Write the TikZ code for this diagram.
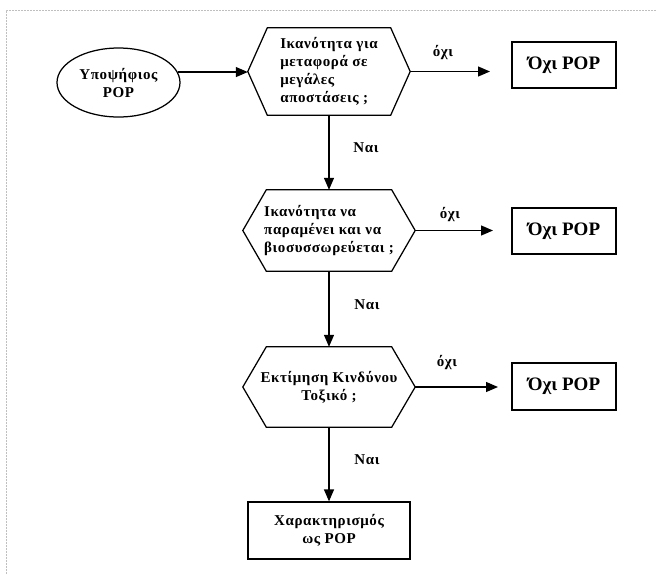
\documentclass[tikz,border=0pt]{standalone}
\usepackage{fontspec}
\setmainfont{Liberation Serif}
\usetikzlibrary{arrows.meta,shapes.geometric}
\begin{document}
\begin{tikzpicture}[x=1pt,y=-1pt,
  every node/.style={font=\bfseries\fontsize{15}{18}\selectfont\addfontfeatures{LetterSpace=4}},
  ln/.style={line width=1.25pt},
  arr/.style={ln,-{Triangle[length=12pt,width=10pt]}},
  hexa/.style={inner sep=0pt, align=left},
  box/.style={draw,ln,rectangle,inner sep=0pt},
  bigtxt/.style={font=\bfseries\fontsize{19}{22}\selectfont},
  lbl/.style={inner sep=0pt}]
\useasboundingbox (0,0) rectangle (657,574);
\fill[white] (0,0) rectangle (657,574);
\draw[gray!50,line width=0.7pt,dash pattern=on 2pt off 1pt] (6,574) -- (6,10) -- (657,10);

% nodes
\node[draw,ln,ellipse,minimum width=123pt,minimum height=69pt,inner sep=0pt,align=center] (ell) at (118.5,82.5) {Υποψήφιος\\POP};
\node[hexa,minimum width=162pt,minimum height=87pt] (h1) at (329,71.5) {Ικανότητα για\\μεταφορά σε\\μεγάλες\\αποστάσεις ;};
\node[hexa,minimum width=172pt,minimum height=81pt] (h2) at (329,230.5) {Ικανότητα να\\παραμένει και να\\βιοσυσσωρεύεται ;};
\node[hexa,align=center,minimum width=172pt,minimum height=80pt] (h3) at (329,387) {Εκτίμηση Κινδύνου\\Τοξικό ;};
\node[box,bigtxt,minimum width=104pt,minimum height=46pt] (b1) at (564,65) {Όχι POP};
\node[box,bigtxt,minimum width=104pt,minimum height=46pt] (b2) at (564,231) {Όχι POP};
\node[box,bigtxt,minimum width=104pt,minimum height=47pt] (b3) at (564,386.5) {Όχι POP};
\node[box,align=center,minimum width=162pt,minimum height=57pt] (fin) at (329,530.5) {Χαρακτηρισμός\\ως POP};

% hexagon outlines
\foreach \n/\c in {h1/19.5,h2/23.5,h3/23.5}
  \draw[ln,line join=miter] ([xshift=\c]\n.north west) -- ([xshift=-\c]\n.north east) -- (\n.east)
     -- ([xshift=-\c]\n.south east) -- ([xshift=\c]\n.south west) -- (\n.west) -- cycle;

% free ends of the "no" arrows
\coordinate (e1) at (490,71.5);
\coordinate (e2) at (493,230.5);
\coordinate (e3) at (498,387);

% connectors
\draw[arr] (ell.10) -- (ell.10 -| h1.west);
\draw[arr] (h1.east) -- (e1);
\draw[arr] (h2.east) -- (e2);
\draw[arr] (h3.east) -- (e3);
\draw[arr] (h1.south) -- (h2.north);
\draw[arr] (h2.south) -- (h3.north);
\draw[arr] (h3.south) -- (fin.north);

% labels
\node[lbl] (n1) at (443,53) {όχι};
\node[lbl] (n2) at (450,215) {όχι};
\node[lbl] (n3) at (447,363) {όχι};
\node[lbl] (y1) at (366,148) {Ναι};
\node[lbl] (y2) at (367,305) {Ναι};
\node[lbl] (y3) at (367,460) {Ναι};
\end{tikzpicture}
\end{document}
